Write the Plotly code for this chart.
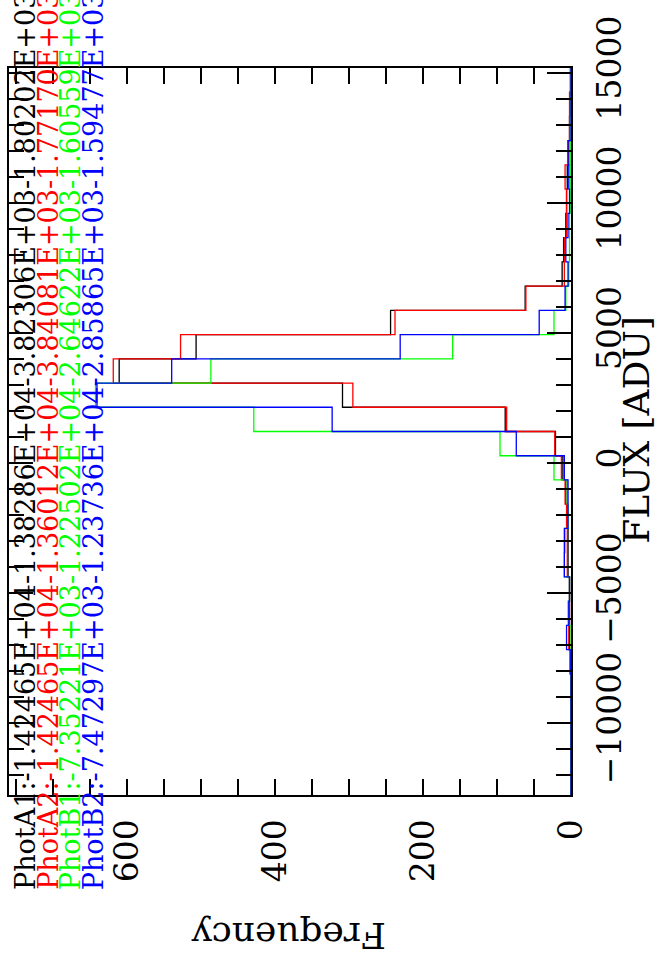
import plotly.graph_objects as go

# ---- data -------------------------------------------------------------
FLUX_MIN = -12770.0     # lower end of the flux axis / first bin edge
FLUX_MAX = 15190.0      # upper end of the flux axis / last bin edge
N_BINS = 30
FREQ_MAX = 760          # upper end of the frequency axis

series_names = ["PhotA1", "PhotA2", "PhotB1", "PhotB2"]
series_colors = ["#000000", "#ff0000", "#00ff00", "#0000ff"]
summary_values = [
    ["-1.42465E+04", "-1.38286E+04", "-3.82306E+03", "-1.80202E+03"],
    ["-1.42465E+04", "-1.36012E+04", "-3.84081E+03", "-1.77170E+03"],
    ["-7.35221E+03", "-1.22502E+04", "-2.64622E+03", "-1.60559E+03"],
    ["-7.47297E+03", "-1.23736E+04", "-2.85865E+03", "-1.59477E+03"],
]

# counts per flux bin, from the lowest bin to the highest
counts_A1 = [0, 0, 0, 0, 0, 0, 2, 2, 2, 4, 4, 5, 7, 11, 21, 89, 309, 611, 507, 244,
             62, 12, 10, 7, 6, 5, 3, 2, 1, 0]
counts_A2 = [0, 0, 0, 0, 0, 1, 3, 2, 2, 5, 5, 6, 8, 13, 22, 87, 295, 619, 528, 238,
             61, 9, 9, 6, 6, 8, 4, 2, 2, 1]
counts_B1 = [0, 0, 0, 0, 0, 1, 0, 4, 2, 9, 8, 4, 5, 23, 96, 429, 643, 487, 160, 23,
             7, 3, 2, 2, 1, 1, 1, 0, 0, 0]
counts_B2 = [0, 0, 0, 0, 0, 1, 6, 3, 2, 9, 9, 4, 4, 9, 74, 323, 641, 540, 231, 43,
             8, 4, 7, 4, 2, 3, 4, 0, 0, 0]
all_counts = [counts_A1, counts_A2, counts_B1, counts_B2]

freq_ticks = [0, 200, 400, 600]
flux_ticks = [-10000, -5000, 0, 5000, 10000, 15000]

# ---- figure -----------------------------------------------------------
FONT = "DejaVu Serif"
W, H = 659, 957
ML, MR, MT, MB = 7, 88, 68, 162

bin_width = (FLUX_MAX - FLUX_MIN) / N_BINS
edges = [FLUX_MIN + i * bin_width for i in range(N_BINS + 1)]

fig = go.Figure()
for name, color, counts in zip(series_names, series_colors, all_counts):
    xs = list(counts) + [counts[-1]]
    fig.add_trace(go.Scatter(
        x=xs, y=edges, mode="lines", name=name,
        line=dict(color=color, width=1.3, shape="vh"),
        showlegend=False, hoverinfo="skip",
    ))

fig.update_layout(
    width=W, height=H,
    margin=dict(l=ML, r=MR, t=MT, b=MB, pad=0),
    paper_bgcolor="white", plot_bgcolor="white",
    font=dict(family=FONT, color="black"),
    showlegend=False,
)

fig.update_xaxes(
    range=[FREQ_MAX, 0], showgrid=False, zeroline=False,
    showline=True, linecolor="black", linewidth=2, mirror="allticks",
    ticks="inside", ticklen=16, tickwidth=2, tickcolor="black",
    tickvals=freq_ticks, ticktext=[str(v) for v in freq_ticks],
    tickangle=-90, tickfont=dict(family=FONT, size=33, color="black"),
    ticklabelstandoff=9,
    minor=dict(dtick=50, ticks="inside", ticklen=16, tickwidth=2, tickcolor="black",
               showgrid=False),
)
fig.update_yaxes(
    range=[FLUX_MIN, FLUX_MAX], side="right", showgrid=False, zeroline=False,
    showline=True, linecolor="black", linewidth=2, mirror="allticks",
    ticks="inside", ticklen=24, tickwidth=2, tickcolor="black",
    tickvals=flux_ticks, ticktext=[str(v).replace("-", "\u2212") for v in flux_ticks],
    tickangle=-90, tickfont=dict(family=FONT, size=33, color="black"),
    ticklabelstandoff=8,
    minor=dict(dtick=1000, ticks="inside", ticklen=15, tickwidth=2, tickcolor="black",
               showgrid=False),
)

pw = W - ML - MR
ph = H - MT - MB


def px_to_paper(px, py):
    return (px - ML) / pw, (H - MB - py) / ph


# summary texts, rotated, one column per series
col_x = [24, 47, 69, 92]
for name, color, vals, cx in zip(series_names, series_colors, summary_values, col_x):
    text = name + ":" + "".join(vals)
    ax_, ay_ = px_to_paper(cx, 891)
    fig.add_annotation(
        text=text, xref="paper", yref="paper", x=ax_, y=ay_,
        xanchor="center", yanchor="bottom", showarrow=False, textangle=-90,
        font=dict(family=FONT, size=27, color=color), borderpad=0,
    )

# axis titles
tx, ty = px_to_paper(637, 430)
fig.add_annotation(text="FLUX [ADU]", xref="paper", yref="paper", x=tx, y=ty,
                   xanchor="center", yanchor="middle", showarrow=False, textangle=-90,
                   font=dict(family=FONT, size=36, color="black"))
tx, ty = px_to_paper(288, 935)
fig.add_annotation(text="Frequency", xref="paper", yref="paper", x=tx, y=ty,
                   xanchor="center", yanchor="middle", showarrow=False, textangle=180,
                   font=dict(family=FONT, size=36, color="black"))

fig.write_html(
    "out.html",
    config={"displayModeBar": False},
    post_script="document.body.style.margin='0px';document.body.style.overflow='hidden';",
)
